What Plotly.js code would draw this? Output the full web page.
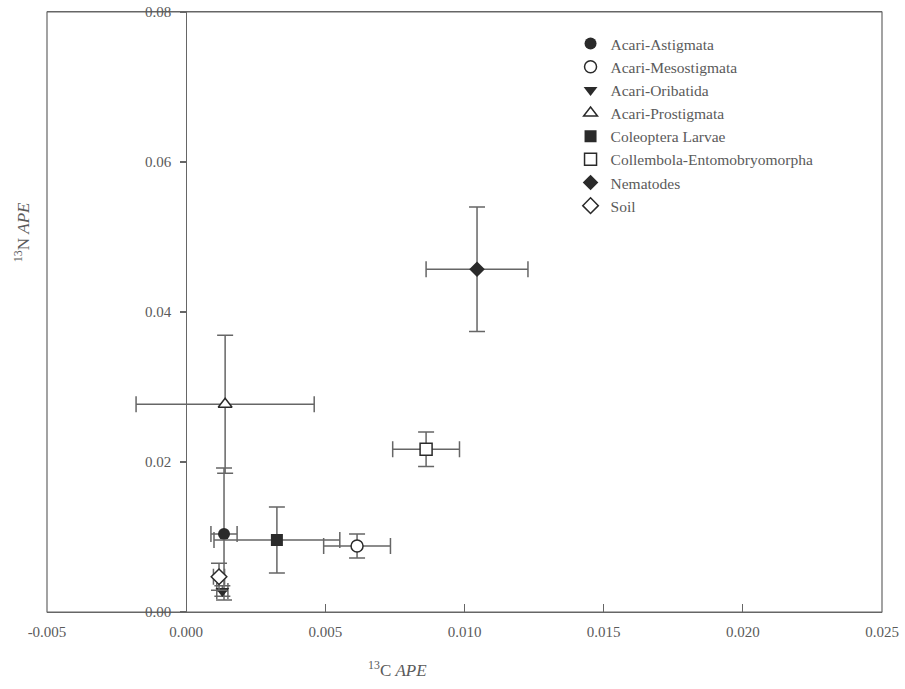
<!DOCTYPE html>
<html>
<head>
<meta charset="utf-8">
<script src="https://cdn.plot.ly/plotly-3.0.1.min.js"></script>
<style>html,body{margin:0;padding:0;background:#fff;}#chart{width:905px;height:689px;}</style>
</head>
<body>
<div id="chart"></div>
<script>
// Data
const categories = ["Acari-Astigmata", "Acari-Mesostigmata", "Acari-Oribatida", "Acari-Prostigmata",
  "Coleoptera Larvae", "Collembola-Entomobryomorpha", "Nematodes", "Soil"];
const c13APE = [0.00136, 0.00614, 0.0013, 0.0014, 0.00326, 0.00862, 0.01045, 0.00118];
const n15APE = [0.0104, 0.0088, 0.0028, 0.0277, 0.0096, 0.0217, 0.0457, 0.0047];
const c13Err = [0.00047, 0.0012, 0.0002, 0.0032, 0.00226, 0.0012, 0.00183, 0.0002];
const n15Err = [0.0088, 0.0016, 0.0007, 0.0092, 0.0044, 0.0023, 0.0083, 0.0018];
const xTickVals = [-0.005, 0.000, 0.005, 0.010, 0.015, 0.020, 0.025];
const xTickText = ["-0.005", "0.000", "0.005", "0.010", "0.015", "0.020", "0.025"];
const yTickVals = [0.00, 0.02, 0.04, 0.06, 0.08];
const yTickText = ["0.00", "0.02", "0.04", "0.06", "0.08"];

// Styles
const symbols = ["circle", "circle", "triangle-down", "triangle-up", "square", "square", "diamond", "diamond"];
const filled = [true, false, true, false, true, false, true, false];
const markColor = "#2a2a2a";
const lineGray = "#666";
const textGray = "#5a5a5a";
const font = "Liberation Serif, Times New Roman, serif";

const traces = categories.map((name, i) => ({
  type: "scatter",
  mode: "markers",
  name: name,
  x: [c13APE[i]],
  y: [n15APE[i]],
  error_x: {type: "data", array: [c13Err[i]], visible: true, color: lineGray, thickness: 1.5, width: 8},
  error_y: {type: "data", array: [n15Err[i]], visible: true, color: lineGray, thickness: 1.5, width: 8},
  marker: {
    symbol: symbols[i],
    size: 12,
    color: filled[i] ? markColor : "#ffffff",
    line: {color: markColor, width: filled[i] ? 0 : 1.5}
  },
  cliponaxis: false
}));

const layout = {
  width: 905, height: 689,
  margin: {l: 47, r: 23, t: 12, b: 77},
  paper_bgcolor: "#fff", plot_bgcolor: "#fff",
  font: {family: font, color: textGray, size: 14},
  showlegend: true,
  legend: {
    x: 0.627, y: 0.975, xanchor: "left", yanchor: "top",
    font: {family: font, size: 15.5, color: textGray},
    bgcolor: "rgba(0,0,0,0)"
  },
  xaxis: {
    range: [-0.005, 0.025],
    tickvals: xTickVals, ticktext: xTickText,
    ticks: "inside", ticklen: 8, tickcolor: lineGray, tickwidth: 1.2,
    showline: true, linecolor: lineGray, linewidth: 1.2, mirror: true,
    showgrid: false, zeroline: false,
    ticklabelstandoff: 6,
    tickfont: {family: font, size: 15, color: textGray}
  },
  yaxis: {
    range: [0, 0.08],
    anchor: "free", position: 1/6,
    tickvals: yTickVals, ticktext: yTickText,
    ticks: "outside", ticklen: 6, tickcolor: lineGray, tickwidth: 1.2,
    showline: true, linecolor: lineGray, linewidth: 1.2,
    showgrid: false, zeroline: false,
    ticklabelstandoff: 6,
    tickfont: {family: font, size: 15, color: textGray}
  },
  shapes: [{
    type: "rect", xref: "paper", yref: "paper", x0: 0, x1: 1, y0: 0, y1: 1,
    line: {color: lineGray, width: 1.2}, layer: "below"
  }],
  annotations: [
    {text: "<sup>13</sup>C <i>APE</i>", xref: "paper", yref: "paper", x: 0.42, y: -0.095,
     xanchor: "center", yanchor: "middle", showarrow: false, font: {family: font, size: 17, color: textGray}},
    {text: "<sup>13</sup>N <i>APE</i>", xref: "paper", yref: "paper", x: -0.03, y: 0.633,
     xanchor: "center", yanchor: "middle", textangle: -90, showarrow: false, font: {family: font, size: 17, color: textGray}}
  ]
};

Plotly.newPlot("chart", traces, layout, {displayModeBar: false, staticPlot: true});
</script>
</body>
</html>
